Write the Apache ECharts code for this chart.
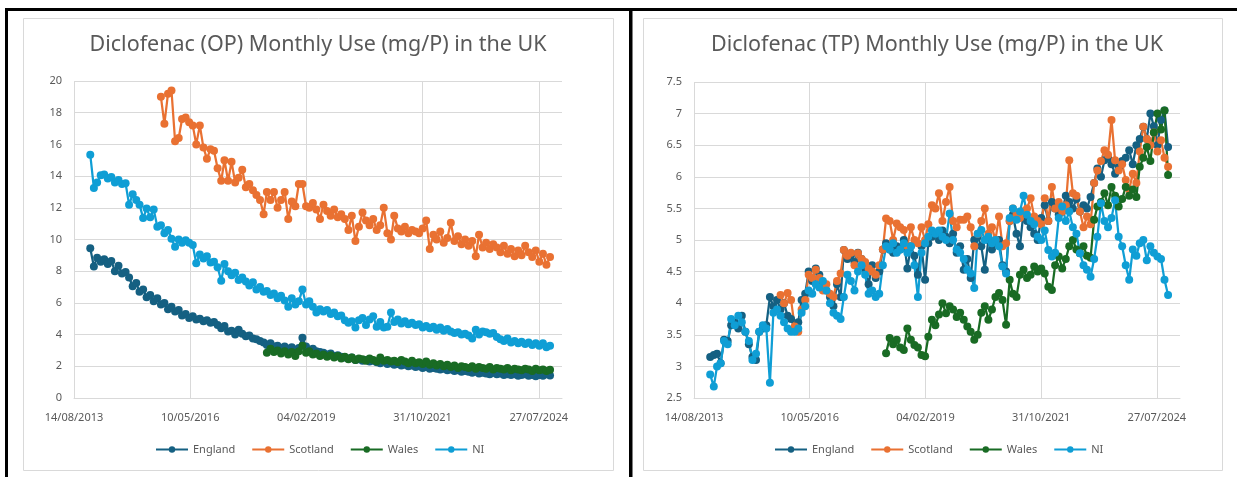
<!DOCTYPE html>
<html>
<head>
<meta charset="utf-8">
<title>Diclofenac Monthly Use in the UK</title>
<script src="https://cdn.jsdelivr.net/npm/echarts@6/dist/echarts.min.js"></script>
<style>
  html, body { margin: 0; padding: 0; background: #ffffff; }
  #chart { width: 1237px; height: 477px; }
</style>
</head>
<body>
<div id="chart"></div>
<script>
// Monthly series: first month of each series, then one value per month (mg per person).
const englandStart = '2014-01';
const scotlandStart = '2015-09';
const walesStart = '2018-03';
const niStart = '2014-01';

const seriesNames = ['England', 'Scotland', 'Wales', 'NI'];

// Date axis: day 0 is 14/08/2013, labelled every 1000 days.
const axisStartDate = '2013-08-14';
const axisTickDays = 1000;
const axisMaxDays = 4200;

// Oral preparations (OP)
const opEngland = [
  9.45, 8.3, 8.85, 8.6, 8.75, 8.45, 8.65, 8.0, 8.35, 7.85, 7.95, 7.6,      // 2014
  7.05, 7.25, 6.7, 6.85, 6.35, 6.5, 6.1, 6.3, 5.9, 6.0, 5.6, 5.75,         // 2015
  5.45, 5.55, 5.2, 5.3, 5.05, 5.15, 4.95, 5.0, 4.85, 4.9, 4.75, 4.8,       // 2016
  4.6, 4.4, 4.55, 4.2, 4.25, 4.0, 4.3, 4.05, 3.9, 3.95, 3.75, 3.7,         // 2017
  3.6, 3.5, 3.35, 3.45, 3.25, 3.3, 3.15, 3.25, 3.1, 3.2, 3.05, 3.15,       // 2018
  3.8, 3.25, 3.05, 3.1, 2.95, 2.9, 2.85, 2.75, 2.8, 2.65, 2.7, 2.6,        // 2019
  2.55, 2.5, 2.55, 2.4, 2.45, 2.35, 2.4, 2.3, 2.35, 2.25, 2.2, 2.3,        // 2020
  2.15, 2.2, 2.1, 2.15, 2.05, 2.1, 2.0, 2.05, 1.95, 2.0, 1.9, 1.95,        // 2021
  1.85, 1.9, 1.85, 1.8, 1.85, 1.75, 1.8, 1.7, 1.75, 1.65, 1.7, 1.65,       // 2022
  1.6, 1.65, 1.55, 1.6, 1.55, 1.5, 1.6, 1.5, 1.55, 1.45, 1.5, 1.45,        // 2023
  1.5, 1.4, 1.45, 1.5, 1.4, 1.45, 1.38, 1.45, 1.4, 1.5, 1.42               // 2024
];
const opScotland = [
  19.0, 17.3, 19.2, 19.4,                                                  // 2015
  16.2, 16.4, 17.6, 17.7, 17.4, 17.2, 16.0, 17.2, 15.8, 15.1, 15.7, 15.6,  // 2016
  14.5, 13.7, 15.0, 13.7, 14.9, 13.6, 13.9, 14.4, 13.3, 13.5, 13.1, 12.8,  // 2017
  12.5, 11.6, 13.0, 12.5, 13.0, 12.0, 12.5, 13.0, 11.3, 12.4, 12.1, 13.5,  // 2018
  13.5, 12.1, 12.0, 12.3, 11.9, 11.3, 12.2, 11.8, 11.5, 11.9, 11.4, 11.6,  // 2019
  11.3, 10.6, 11.5, 9.9, 10.8, 11.7, 11.2, 10.9, 11.3, 10.6, 10.9, 12.0,   // 2020
  10.4, 10.0, 11.5, 10.7, 10.5, 10.8, 10.4, 10.6, 10.5, 10.4, 10.7, 11.2,  // 2021
  9.4, 10.3, 10.0, 10.5, 9.8, 10.1, 11.05, 9.9, 10.2, 9.7, 10.0, 9.6,      // 2022
  9.9, 8.95, 10.3, 9.5, 9.8, 9.4, 9.7, 9.5, 9.2, 9.6, 9.1, 9.4,            // 2023
  8.95, 9.3, 9.0, 9.6, 9.2, 8.9, 9.3, 8.6, 9.1, 8.4, 8.9                   // 2024
];
const opWales = [
  2.85, 3.1, 2.9, 3.0, 2.8, 2.95, 2.75, 2.9, 2.65, 2.95,                   // 2018
  3.3, 2.85, 2.95, 2.75, 2.8, 2.65, 2.75, 2.6, 2.7, 2.55, 2.65, 2.5,       // 2019
  2.6, 2.45, 2.55, 2.4, 2.5, 2.45, 2.35, 2.5, 2.4, 2.3, 2.55, 2.35,        // 2020
  2.4, 2.3, 2.35, 2.25, 2.4, 2.3, 2.2, 2.35, 2.2, 2.25, 2.15, 2.3,         // 2021
  2.1, 2.2, 2.05, 2.15, 2.0, 2.1, 1.95, 2.05, 1.9, 2.0, 1.95, 1.9,         // 2022
  2.0, 1.85, 1.95, 1.9, 1.85, 1.95, 1.8, 1.9, 1.85, 1.8, 1.9, 1.75,        // 2023
  1.85, 1.8, 1.75, 1.85, 1.8, 1.7, 1.85, 1.75, 1.8, 1.7, 1.78              // 2024
];
const opNI = [
  15.35, 13.25, 13.6, 14.05, 14.1, 13.85, 13.95, 13.6, 13.75, 13.5, 13.55, 12.2, // 2014
  12.85, 12.5, 12.2, 11.35, 11.95, 11.4, 11.9, 10.8, 10.9, 10.4, 10.6, 10.05,    // 2015
  9.55, 10.0, 9.8, 9.95, 9.8, 9.65, 8.5, 9.05, 8.8, 8.95, 8.55, 8.6,             // 2016
  8.25, 7.4, 8.45, 8.0, 7.75, 7.9, 7.45, 7.6, 7.35, 7.1, 7.3, 6.85,              // 2017
  7.0, 6.7, 6.75, 6.5, 6.6, 6.3, 6.45, 6.15, 5.75, 6.3, 5.9, 6.1,                // 2018
  6.85, 5.9, 6.1, 5.75, 5.4, 5.6, 5.45, 5.55, 5.3, 5.4, 5.15, 5.2,               // 2019
  4.9, 4.75, 4.85, 4.45, 4.9, 5.05, 4.6, 4.95, 5.15, 4.5, 4.8, 4.45,             // 2020
  4.5, 5.4, 4.8, 4.95, 4.7, 4.85, 4.65, 4.75, 4.6, 4.65, 4.45, 4.55,             // 2021
  4.4, 4.5, 4.3, 4.45, 4.25, 4.35, 4.2, 4.1, 4.15, 4.0, 4.05, 3.95,              // 2022
  3.75, 4.3, 4.0, 4.2, 4.15, 4.05, 4.1, 3.85, 3.7, 3.6, 3.75, 3.5,               // 2023
  3.6, 3.45, 3.55, 3.4, 3.5, 3.35, 3.45, 3.3, 3.45, 3.2, 3.3                     // 2024
];

// Topical preparations (TP)
const tpEngland = [
  3.15, 3.18, 3.2, 3.05, 3.42, 3.4, 3.65, 3.7, 3.6, 3.8, 3.55, 3.35,       // 2014
  3.15, 3.1, 3.55, 3.6, 3.65, 4.1, 3.95, 4.05, 3.9, 4.0, 3.8, 3.75,        // 2015
  3.6, 3.7, 4.05, 4.15, 4.5, 4.35, 4.55, 4.45, 4.3, 4.2, 4.1, 3.95,        // 2016
  4.3, 4.1, 4.84, 4.7, 4.75, 4.65, 4.8, 4.7, 4.55, 4.3, 4.6, 4.4,          // 2017
  4.5, 4.85, 4.95, 4.85, 4.8, 4.9, 4.85, 5.0, 4.55, 4.9, 4.75, 4.45,       // 2018
  4.9, 4.37, 4.95, 5.05, 5.1, 5.0, 5.15, 5.05, 4.95, 5.1, 4.8, 4.9,        // 2019
  4.53, 4.7, 4.4, 5.0, 5.05, 4.9, 4.53, 5.0, 4.85, 4.95, 5.0, 4.6,         // 2020
  4.5, 5.3, 5.4, 5.1, 4.9, 5.45, 5.3, 5.2, 5.1, 5.0, 5.35, 5.55,           // 2021
  5.3, 5.6, 5.5, 5.4, 5.45, 5.7, 5.6, 5.5, 5.65, 5.45, 5.55, 5.5,          // 2022
  5.68, 5.9, 6.13, 6.0, 6.26, 6.3, 6.2, 6.05, 6.15, 6.25, 6.3, 6.42,       // 2023
  6.2, 6.5, 6.6, 6.79, 6.6, 7.0, 6.8, 6.5, 6.9, 7.05, 6.47                 // 2024
];
const tpScotland = [
  4.13, 4.0, 4.16, 4.05,                                                   // 2015
  3.63, 3.55, 3.9, 4.05, 4.45, 4.4, 4.53, 4.4, 4.2, 4.3, 4.15, 4.1,        // 2016
  4.35, 4.47, 4.84, 4.75, 4.8, 4.6, 4.79, 4.7, 4.65, 4.55, 4.5, 4.45,      // 2017
  4.6, 4.85, 5.34, 5.3, 5.0, 5.26, 5.2, 5.16, 4.9, 5.2, 5.0, 4.95,         // 2018
  5.2, 5.0, 5.25, 5.55, 5.5, 5.74, 5.3, 5.6, 5.84, 5.3, 5.2, 5.32,         // 2019
  5.32, 5.37, 5.2, 4.9, 5.1, 5.3, 5.5, 5.1, 5.2, 5.0, 5.37, 4.9,           // 2020
  4.95, 5.3, 5.5, 5.4, 5.35, 5.45, 5.5, 5.66, 5.37, 5.3, 5.25, 5.66,       // 2021
  5.3, 5.84, 5.5, 5.6, 5.45, 5.55, 6.26, 5.74, 5.7, 5.45, 5.2, 5.37,       // 2022
  5.25, 5.9, 6.1, 6.25, 6.42, 6.35, 6.9, 6.26, 6.1, 6.2, 5.95, 5.8,        // 2023
  6.05, 5.9, 6.4, 6.79, 6.6, 6.5, 6.7, 6.4, 6.58, 6.3, 6.16                // 2024
];
const tpWales = [
  3.21, 3.45, 3.35, 3.42, 3.3, 3.26, 3.6, 3.42, 3.34, 3.3,                 // 2018
  3.18, 3.16, 3.47, 3.74, 3.65, 3.82, 4.0, 3.84, 3.95, 3.9, 3.78, 3.85,    // 2019
  3.74, 3.63, 3.55, 3.42, 3.5, 3.85, 3.95, 3.74, 3.9, 4.1, 4.16, 4.05,     // 2020
  3.66, 4.37, 4.15, 4.1, 4.45, 4.53, 4.4, 4.45, 4.58, 4.5, 4.55, 4.47,     // 2021
  4.26, 4.21, 4.6, 4.74, 4.55, 4.7, 4.9, 5.0, 4.85, 4.79, 4.9, 4.75,       // 2022
  4.72, 5.32, 5.53, 5.6, 5.74, 5.55, 5.84, 5.7, 5.53, 5.65, 5.84, 5.7,     // 2023
  5.8, 5.68, 6.16, 6.3, 6.47, 6.25, 6.7, 7.0, 6.75, 7.05, 6.03             // 2024
];
const tpNI = [
  2.87, 2.68, 3.0, 3.05, 3.4, 3.35, 3.75, 3.65, 3.8, 3.7, 3.55, 3.4,       // 2014
  3.1, 3.2, 3.55, 3.65, 3.6, 2.74, 3.85, 3.9, 3.8, 3.7, 3.6, 3.55,         // 2015
  3.55, 3.6, 3.85, 3.95, 4.2, 4.15, 4.3, 4.25, 4.35, 4.2, 4.0, 3.85,       // 2016
  3.8, 3.75, 4.1, 4.45, 4.35, 4.2, 4.5, 4.6, 4.45, 4.15, 4.2, 4.1,         // 2017
  4.15, 4.6, 4.9, 4.85, 4.95, 4.8, 4.85, 4.95, 4.8, 4.9, 4.6, 4.1,         // 2018
  4.8, 4.95, 5.05, 5.15, 5.1, 5.15, 5.05, 5.0, 5.42, 5.0, 4.85, 4.8,       // 2019
  4.7, 4.53, 4.47, 4.24, 5.1, 5.16, 5.0, 5.05, 4.95, 5.0, 4.9, 4.58,       // 2020
  4.47, 5.35, 5.5, 5.32, 5.45, 5.7, 5.4, 5.3, 5.25, 5.05, 5.0, 5.15,       // 2021
  4.84, 4.74, 4.8, 5.35, 5.53, 5.3, 5.45, 5.2, 5.1, 4.79, 4.6, 4.53,       // 2022
  4.42, 4.7, 5.05, 5.58, 5.3, 5.2, 5.35, 5.63, 5.05, 4.9, 4.6, 4.37,       // 2023
  4.85, 4.75, 4.95, 5.0, 4.68, 4.9, 4.8, 4.74, 4.7, 4.37, 4.13             // 2024
];

const colors = { England: '#156082', Scotland: '#E97132', Wales: '#196B24', NI: '#0F9ED5' };
const textColor = '#595959';
const gridColor = '#d9d9d9';
const fontFamily = '"Noto Sans", "Open Sans", sans-serif';

const DAY_MS = 86400000;
const [by, bm, bd] = axisStartDate.split('-').map(Number);
const BASE_MS = Date.UTC(by, bm - 1, bd);

// Day offset (from the axis start date) of the k-th month after a 'YYYY-MM' start.
function monthOffset(start, k) {
  const [y, m] = start.split('-').map(Number);
  return (Date.UTC(y, m - 1 + k, 1) - BASE_MS) / DAY_MS;
}
function toPoints(start, values) {
  return values.map((v, k) => [monthOffset(start, k), v]);
}
function formatDay(d) {
  const t = new Date(BASE_MS + d * DAY_MS);
  const dd = String(t.getUTCDate()).padStart(2, '0');
  const mm = String(t.getUTCMonth() + 1).padStart(2, '0');
  return dd + '/' + mm + '/' + t.getUTCFullYear();
}

const panels = [
  {
    title: 'Diclofenac (OP) Monthly Use (mg/P) in the UK',
    titleX: 318,
    grid: { left: 74, top: 81, width: 488, height: 317 },
    y: { min: 0, max: 20, interval: 2 },
    legendLeft: 155,
    data: { England: [englandStart, opEngland], Scotland: [scotlandStart, opScotland], Wales: [walesStart, opWales], NI: [niStart, opNI] }
  },
  {
    title: 'Diclofenac (TP) Monthly Use (mg/P) in the UK',
    titleX: 937,
    grid: { left: 694, top: 82, width: 486, height: 316 },
    y: { min: 2.5, max: 7.5, interval: 0.5 },
    legendLeft: 774,
    data: { England: [englandStart, tpEngland], Scotland: [scotlandStart, tpScotland], Wales: [walesStart, tpWales], NI: [niStart, tpNI] }
  }
];

const option = {
  animation: false,
  backgroundColor: '#ffffff',
  textStyle: { fontFamily: fontFamily },
  title: [],
  legend: [],
  grid: [],
  xAxis: [],
  yAxis: [],
  series: [],
  graphic: [
    // chart area frames
    { type: 'rect', shape: { x: 23.5, y: 18.5, width: 590, height: 452 }, style: { fill: 'none', stroke: gridColor, lineWidth: 1 }, z: 0 },
    { type: 'rect', shape: { x: 643.5, y: 18.5, width: 579, height: 452 }, style: { fill: 'none', stroke: gridColor, lineWidth: 1 }, z: 0 },
    // black outer rules
    { type: 'rect', shape: { x: 5, y: 8, width: 1232, height: 3 }, style: { fill: '#000000' }, z: 10 },
    { type: 'rect', shape: { x: 5, y: 8, width: 3, height: 469 }, style: { fill: '#000000' }, z: 10 },
    { type: 'rect', shape: { x: 629, y: 8, width: 3.5, height: 469 }, style: { fill: '#000000' }, z: 10 }
  ]
};

panels.forEach((p, pi) => {
  option.title.push({
    text: p.title,
    left: p.titleX,
    top: 34,
    textAlign: 'center',
    padding: 0,
    textStyle: { color: textColor, fontSize: 21.5, fontWeight: 'normal', fontFamily: fontFamily }
  });
  option.legend.push({
    data: seriesNames,
    left: p.legendLeft,
    top: 444,
    padding: 0,
    itemWidth: 32,
    itemHeight: 8,
    itemGap: 16,
    textStyle: { color: textColor, fontSize: 11, fontFamily: fontFamily },
    selectedMode: false
  });
  option.grid.push(Object.assign({ containLabel: false, outerBoundsMode: 'none' }, p.grid));
  option.xAxis.push({
    type: 'value',
    gridIndex: pi,
    min: 0,
    max: axisMaxDays,
    interval: axisTickDays,
    axisLine: { show: true, lineStyle: { color: gridColor, width: 1 } },
    axisTick: { show: false },
    axisLabel: { color: textColor, fontSize: 11, margin: 14, formatter: formatDay, showMaxLabel: false, fontFamily: fontFamily },
    splitLine: { show: true, showMaxLine: false, lineStyle: { color: gridColor, width: 1 } }
  });
  option.yAxis.push({
    type: 'value',
    gridIndex: pi,
    min: p.y.min,
    max: p.y.max,
    interval: p.y.interval,
    axisLine: { show: false },
    axisTick: { show: false },
    axisLabel: { color: textColor, fontSize: 11, margin: 12, fontFamily: fontFamily },
    splitLine: { show: true, lineStyle: { color: gridColor, width: 1 } }
  });
  seriesNames.forEach(name => {
    const [start, values] = p.data[name];
    option.series.push({
      name: name,
      type: 'line',
      xAxisIndex: pi,
      yAxisIndex: pi,
      data: toPoints(start, values),
      symbol: 'circle',
      symbolSize: 8,
      showSymbol: true,
      showAllSymbol: true,
      lineStyle: { color: colors[name], width: 2.25 },
      itemStyle: { color: colors[name] },
      emphasis: { disabled: true }
    });
  });
});

const chart = echarts.init(document.getElementById('chart'), null, { renderer: 'canvas' });
chart.setOption(option);
</script>
</body>
</html>
